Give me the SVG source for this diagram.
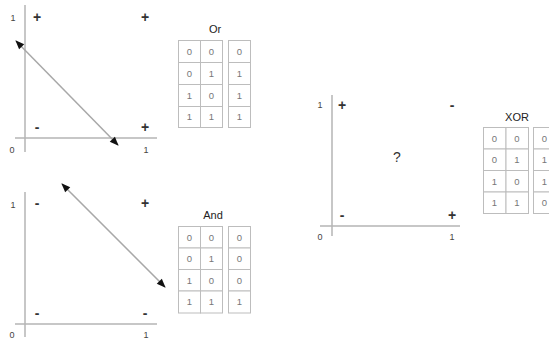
<svg xmlns="http://www.w3.org/2000/svg" width="549" height="339" viewBox="0 0 549 339">
<style>
.ax{stroke:#b4b4b4;stroke-width:1.5;fill:none}
.tk{font-family:"Liberation Sans",Arial,sans-serif;font-size:9px;fill:#444;text-anchor:middle}
.sg{font-family:"Liberation Sans",Arial,sans-serif;font-size:14px;font-weight:bold;fill:#333;text-anchor:middle}
.tt{font-family:"Liberation Sans",Arial,sans-serif;font-size:11px;fill:#222;text-anchor:middle}
.cell{fill:#fff;stroke:#bdbdbd;stroke-width:1}
.cv{font-family:"Liberation Sans",Arial,sans-serif;font-size:9.5px;fill:#777;text-anchor:middle}
.arr{stroke:#a8a8a8;stroke-width:1.5;fill:none;marker-start:url(#ah);marker-end:url(#ah)}
</style>
<defs>
<marker id="ah" viewBox="0 0 10 10" refX="9" refY="5" markerWidth="10" markerHeight="9" orient="auto-start-reverse" markerUnits="userSpaceOnUse">
<path d="M0,1 L10,5 L0,9 Z" fill="#111"/>
</marker>
</defs>
<rect width="549" height="339" fill="#fff"/>

<g id="or-plot">
<line class="ax" x1="25" y1="5" x2="25" y2="152"/>
<line class="ax" x1="15" y1="138" x2="157" y2="138"/>
<text class="tk" x="13" y="21">1</text>
<text class="tk" x="12" y="153">0</text>
<text class="tk" x="146" y="153">1</text>
<text class="sg" x="37" y="22">+</text>
<text class="sg" x="145" y="22">+</text>
<text class="sg" x="37" y="132">-</text>
<text class="sg" x="145" y="132">+</text>
</g>

<g id="and-plot">
<line class="ax" x1="25" y1="192" x2="25" y2="337"/>
<line class="ax" x1="15" y1="324" x2="157" y2="324"/>
<text class="tk" x="13" y="208">1</text>
<text class="tk" x="12" y="338">0</text>
<text class="tk" x="146" y="338">1</text>
<text class="sg" x="37" y="208">-</text>
<text class="sg" x="145" y="208">+</text>
<text class="sg" x="37" y="318">-</text>
<text class="sg" x="145" y="318">-</text>
</g>

<g id="xor-plot">
<line class="ax" x1="332" y1="95" x2="332" y2="236"/>
<line class="ax" x1="320" y1="226" x2="460" y2="226"/>
<text class="tk" x="320" y="108">1</text>
<text class="tk" x="320" y="240">0</text>
<text class="tk" x="452" y="240">1</text>
<text class="sg" x="342" y="110">+</text>
<text class="sg" x="452" y="110">-</text>
<text class="sg" x="342" y="220">-</text>
<text class="sg" x="452" y="220">+</text>
<text x="397" y="162" style="font-family:'Liberation Sans',Arial,sans-serif;font-size:14px;fill:#333;text-anchor:middle">?</text>
</g>

<g id="connectors">
<line class="arr" x1="16" y1="41" x2="118" y2="145"/>
<line class="arr" x1="62" y1="184" x2="165" y2="287"/>
</g>

<g id="or-table">
<text class="tt" x="215" y="33">Or</text>
<rect class="cell" x="178.5" y="40.5" width="22" height="22"/><rect class="cell" x="200.5" y="40.5" width="22" height="22"/><rect class="cell" x="228.5" y="40.5" width="22" height="22"/>
<rect class="cell" x="178.5" y="62.5" width="22" height="22"/><rect class="cell" x="200.5" y="62.5" width="22" height="22"/><rect class="cell" x="228.5" y="62.5" width="22" height="22"/>
<rect class="cell" x="178.5" y="84.5" width="22" height="22"/><rect class="cell" x="200.5" y="84.5" width="22" height="22"/><rect class="cell" x="228.5" y="84.5" width="22" height="22"/>
<rect class="cell" x="178.5" y="106.5" width="22" height="21"/><rect class="cell" x="200.5" y="106.5" width="22" height="21"/><rect class="cell" x="228.5" y="106.5" width="22" height="21"/>
<text class="cv" x="189.5" y="55">0</text><text class="cv" x="211.5" y="55">0</text><text class="cv" x="239.5" y="55">0</text>
<text class="cv" x="189.5" y="77">0</text><text class="cv" x="211.5" y="77">1</text><text class="cv" x="239.5" y="77">1</text>
<text class="cv" x="189.5" y="99">1</text><text class="cv" x="211.5" y="99">0</text><text class="cv" x="239.5" y="99">1</text>
<text class="cv" x="189.5" y="120">1</text><text class="cv" x="211.5" y="120">1</text><text class="cv" x="239.5" y="120">1</text>
</g>

<g id="and-table">
<text class="tt" x="213" y="219">And</text>
<rect class="cell" x="178.5" y="226.5" width="22" height="21.5"/><rect class="cell" x="200.5" y="226.5" width="22" height="21.5"/><rect class="cell" x="228.5" y="226.5" width="22" height="21.5"/>
<rect class="cell" x="178.5" y="248" width="22" height="21.5"/><rect class="cell" x="200.5" y="248" width="22" height="21.5"/><rect class="cell" x="228.5" y="248" width="22" height="21.5"/>
<rect class="cell" x="178.5" y="269.5" width="22" height="21.5"/><rect class="cell" x="200.5" y="269.5" width="22" height="21.5"/><rect class="cell" x="228.5" y="269.5" width="22" height="21.5"/>
<rect class="cell" x="178.5" y="291" width="22" height="22"/><rect class="cell" x="200.5" y="291" width="22" height="22"/><rect class="cell" x="228.5" y="291" width="22" height="22"/>
<text class="cv" x="189.5" y="241">0</text><text class="cv" x="211.5" y="241">0</text><text class="cv" x="239.5" y="241">0</text>
<text class="cv" x="189.5" y="262">0</text><text class="cv" x="211.5" y="262">1</text><text class="cv" x="239.5" y="262">0</text>
<text class="cv" x="189.5" y="284">1</text><text class="cv" x="211.5" y="284">0</text><text class="cv" x="239.5" y="284">0</text>
<text class="cv" x="189.5" y="305">1</text><text class="cv" x="211.5" y="305">1</text><text class="cv" x="239.5" y="305">1</text>
</g>

<g id="xor-table">
<text class="tt" x="517" y="121">XOR</text>
<rect class="cell" x="483.5" y="127.5" width="22.5" height="21.5"/><rect class="cell" x="506" y="127.5" width="22.5" height="21.5"/><rect class="cell" x="533.5" y="127.5" width="22" height="21.5"/>
<rect class="cell" x="483.5" y="149" width="22.5" height="21.5"/><rect class="cell" x="506" y="149" width="22.5" height="21.5"/><rect class="cell" x="533.5" y="149" width="22" height="21.5"/>
<rect class="cell" x="483.5" y="170.5" width="22.5" height="21.5"/><rect class="cell" x="506" y="170.5" width="22.5" height="21.5"/><rect class="cell" x="533.5" y="170.5" width="22" height="21.5"/>
<rect class="cell" x="483.5" y="192" width="22.5" height="21.5"/><rect class="cell" x="506" y="192" width="22.5" height="21.5"/><rect class="cell" x="533.5" y="192" width="22" height="21.5"/>
<text class="cv" x="494.5" y="142">0</text><text class="cv" x="517" y="142">0</text><text class="cv" x="544.5" y="142">0</text>
<text class="cv" x="494.5" y="163">0</text><text class="cv" x="517" y="163">1</text><text class="cv" x="544.5" y="163">1</text>
<text class="cv" x="494.5" y="185">1</text><text class="cv" x="517" y="185">0</text><text class="cv" x="544.5" y="185">1</text>
<text class="cv" x="494.5" y="206">1</text><text class="cv" x="517" y="206">1</text><text class="cv" x="544.5" y="206">0</text>
</g>
</svg>
